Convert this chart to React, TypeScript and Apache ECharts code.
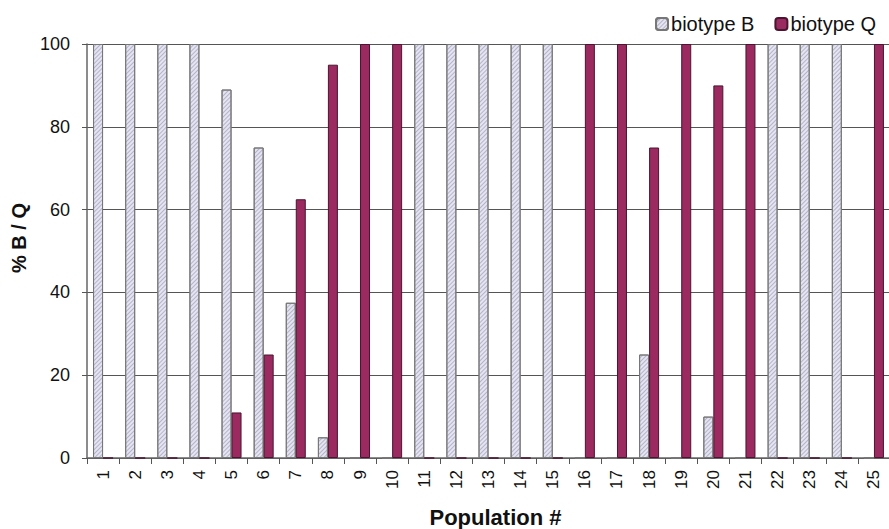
import React, { useEffect, useRef } from "react";
import * as echarts from "echarts";

const categories = Array.from({ length: 25 }, (_, i) => String(i + 1));
const biotypeB = [100, 100, 100, 100, 89, 75, 37.5, 5, 0, 0, 100, 100, 100, 100, 100, 0, 0, 25, 0, 10, 0, 100, 100, 100, 0];
const biotypeQ = [0, 0, 0, 0, 11, 25, 62.5, 95, 100, 100, 0, 0, 0, 0, 0, 100, 100, 75, 100, 90, 100, 0, 0, 0, 100];
const yTicks = { min: 0, max: 100, interval: 20 };

export default function App() {
  const ref = useRef<HTMLDivElement>(null);
  useEffect(() => {
    const chart = echarts.init(ref.current!, null, { renderer: "svg" });
    const font = "Liberation Sans, Arial, sans-serif";
    chart.setOption({
      animation: false,
      backgroundColor: "#fff",
      textStyle: { fontFamily: font },
      legend: {
        right: 8,
        top: 9,
        itemWidth: 12,
        itemHeight: 12,
        itemGap: 20,
        textStyle: { fontSize: 20, color: "#111", fontFamily: font, padding: [0, 0, 0, -2] },
        data: ["biotype B", "biotype Q"],
      },
      grid: { left: 87, right: -1, top: 44, bottom: 71, outerBoundsMode: "none", containLabel: false },
      xAxis: {
        type: "category",
        data: categories,
        name: "Population #",
        nameLocation: "middle",
        nameGap: 48,
        nameTextStyle: { fontSize: 22, fontWeight: "bold", color: "#111", fontFamily: font, padding: [0, 0, 0, 14] },
        axisLine: { lineStyle: { color: "#666", width: 1.5 } },
        axisTick: { show: true, length: 6, lineStyle: { color: "#555" } },
        axisLabel: { rotate: 90, fontSize: 17, color: "#111", margin: 12, fontFamily: font },
      },
      yAxis: {
        type: "value",
        min: yTicks.min,
        max: yTicks.max,
        interval: yTicks.interval,
        name: "% B / Q",
        nameLocation: "middle",
        nameGap: 56,
        nameTextStyle: { fontSize: 20, fontWeight: "bold", color: "#111", fontFamily: font, padding: [0, 0, 0, 26] },
        axisLine: { show: true, lineStyle: { color: "#666", width: 1.5 } },
        axisTick: { show: true, length: 5, lineStyle: { color: "#555" } },
        axisLabel: { fontSize: 18, color: "#111", margin: 17, fontFamily: font },
        splitLine: { lineStyle: { color: "#555", width: 1 } },
      },
      series: [
        {
          name: "biotype B",
          type: "bar",
          data: biotypeB,
          barWidth: 10,
          barGap: "0%",
          itemStyle: {
            color: "#e4e4f4",
            borderColor: "#777",
            borderWidth: 1,
            decal: {
              symbol: "rect",
              symbolSize: 1,
              color: "rgba(140,140,160,0.55)",
              dashArrayX: [1, 0],
              dashArrayY: [1, 2],
              rotation: -Math.PI / 4,
            },
          },
        },
        {
          name: "biotype Q",
          type: "bar",
          data: biotypeQ,
          barWidth: 10,
          barGap: "0%",
          itemStyle: { color: "#9a2a5f", borderColor: "#4a1530", borderWidth: 1 },
        },
      ],
    });
    return () => chart.dispose();
  }, []);
  return (
    <div
      ref={ref}
      style={{ position: "fixed", left: 0, top: 0, width: 889, height: 529, background: "#fff" }}
    />
  );
}
